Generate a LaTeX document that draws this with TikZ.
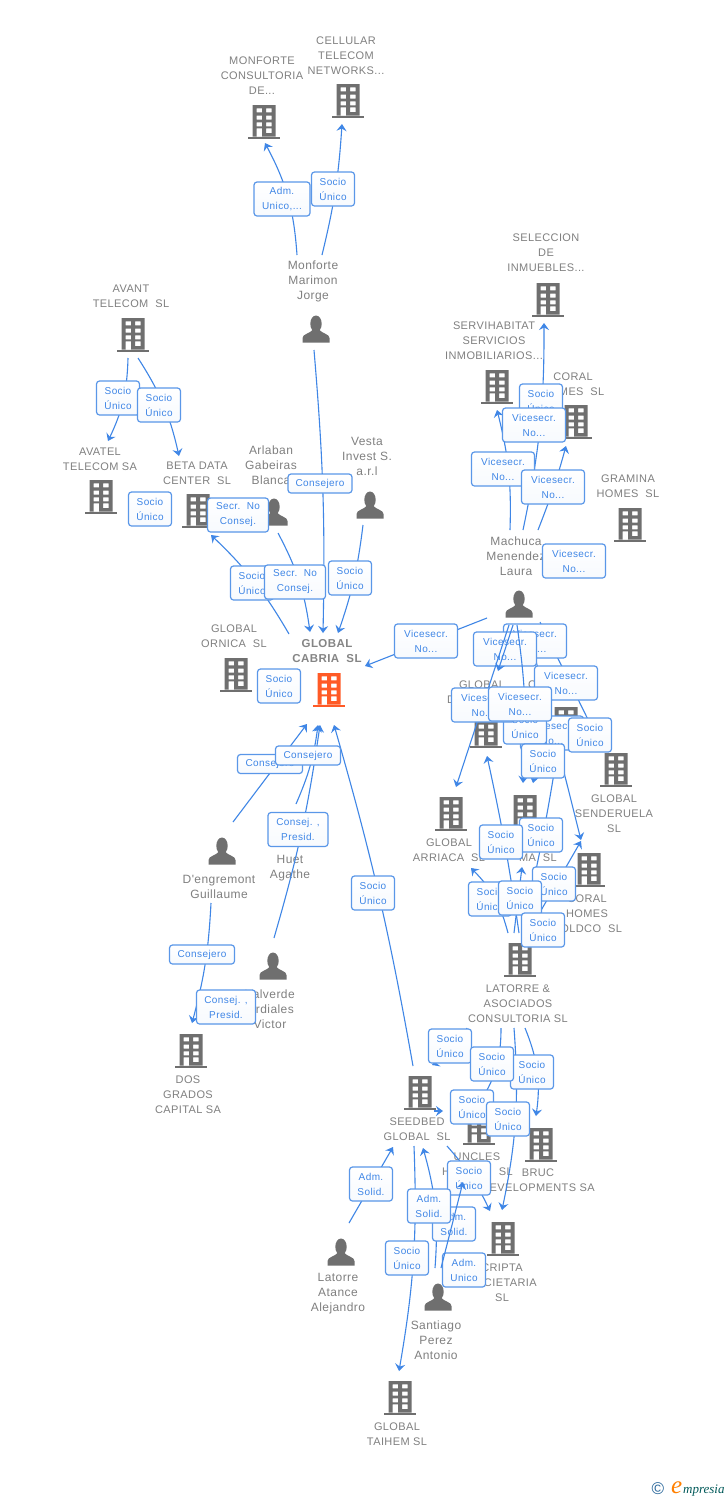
\documentclass[tikz,border=0pt]{standalone}
\usepackage{fontspec}
\setmainfont{Liberation Sans}
\newfontfamily\namefont[LetterSpace=3.6]{Liberation Sans}
\newfontfamily\boxfont[LetterSpace=4]{Liberation Sans}
\newfontfamily\logofont{Liberation Serif}
\usetikzlibrary{arrows.meta}
\definecolor{gtext}{HTML}{808080}
\definecolor{gicon}{HTML}{6F6F6F}
\definecolor{orng}{HTML}{FF5A26}
\definecolor{lblue}{HTML}{3F86E6}
\definecolor{bblue}{HTML}{5A97E8}
\tikzset{
  conn/.style={draw=lblue,line width=1.1pt,-{Stealth[length=7pt,width=10pt,inset=2.5pt]}},
  labelbox/.style={draw=bblue,line width=1.2pt,rounded corners=3pt,top color=white,bottom color=white!93!lblue!60,
    text=lblue,align=center,inner sep=0pt,minimum height=34pt,font=\boxfont\fontsize{10}{15}\selectfont},
  lowbox/.style={labelbox,minimum height=19pt},
  ent/.style={text=gtext,align=center,inner sep=0pt,font=\namefont\fontsize{11}{15}\selectfont},
  per/.style={text=gtext,align=center,inner sep=0pt,font=\namefont\fontsize{12}{15}\selectfont},
  iconbox/.style={inner sep=0pt,minimum width=32pt,minimum height=34pt},
}
\newcommand{\bld}[4][gicon]{%
  \node[iconbox] (#2) at (#3,#4) {};
  \begin{scope}[shift={(#3,#4)}]
    \fill[#1,even odd rule] (-11.5,-17) rectangle (11.5,14.7)
      (-7.5,-13.7) rectangle (-2,-9.7) (2,-13.7) rectangle (7.5,-9.7)
      (-7.5,-6.3) rectangle (-2,-2.3) (2,-6.3) rectangle (7.5,-2.3)
      (-7.5,0.3) rectangle (-2,4.3) (2,0.3) rectangle (7.5,4.3)
      (-7.5,6.3) rectangle (-2,14.7) (2,6.3) rectangle (7.5,11);
    \fill[#1] (-16,14.7) rectangle (16,17);
  \end{scope}}
\newcommand{\pers}[3]{%
  \node[iconbox,minimum width=27pt,minimum height=27pt] (#1) at (#2,#3) {};
  \begin{scope}[shift={(#2,#3)}]
    \fill[gicon] (0,-5.2) ellipse (5.7 and 8.3);
    \fill[gicon] (-13.5,13.5) -- (-13.5,9) .. controls (-13.5,5) and (-6,4.5) .. (-3.5,1)
      -- (3.5,1) .. controls (6,4.5) and (13.5,5) .. (13.5,9) -- (13.5,13.5) -- cycle;
  \end{scope}}
\newcommand{\link}[4]{%
  \coordinate (#1s) at (#2); \coordinate (#1e) at (#3);
  \draw[conn] (#1s) to[#4] (#1e);}
\newcommand{\lab}[5]{\node[labelbox,minimum width=#4pt] (#1) at (#2,#3) {#5};}
\newcommand{\cons}[3]{\node[lowbox,minimum width=65pt] (#1) at (#2,#3) {Consejero};}
\newcommand{\su}[3]{\lab{#1}{#2}{#3}{43}{Socio\\Único}}
\newcommand{\vs}[3]{\lab{#1}{#2}{#3}{63}{Vicesecr.\\No...}}
\newcommand{\as}[3]{\lab{#1}{#2}{#3}{43}{Adm.\\Solid.}}
\begin{document}
\begin{tikzpicture}[x=1pt,y=-1pt]
\useasboundingbox (0,0) rectangle (728,1500);
\fill[white] (0,0) rectangle (728,1500);
% --- company icons
\bld{monf}{264}{122}\bld{cell}{348}{101}\bld{selec}{548}{300}\bld{servi}{497}{387}
\bld{coralh}{576}{422}\bld{gram}{630}{525}\bld{avant}{133}{335}\bld{avatel}{101}{497}
\bld{beta}{198}{511}\bld{ornica}{236}{675}\bld[orng]{cabria}{329}{690}\bld{gdon}{486}{731}
\bld{ghid}{566}{724}\bld{sender}{616}{770}\bld{arriaca}{451}{814}\bld{gma}{525}{812}
\bld{holdco}{589}{870}\bld{latorre}{520}{960}\bld{seedbed}{420}{1093}\bld{uncles}{479}{1128}
\bld{bruc}{541}{1145}\bld{cripta}{503}{1239}\bld{dos}{191}{1051}\bld{taihem}{400}{1398}
% --- person icons
\pers{jorge}{316}{329}\pers{blanca}{274}{512}\pers{vesta}{370}{505}\pers{laura}{519}{604}
\pers{guill}{222}{851}\pers{agathe}{291}{832}\pers{victor}{273}{966}\pers{alej}{341}{1252}\pers{anton}{438}{1297}
% --- names
\node[ent] (t1) at (262,76) {MONFORTE\\CONSULTORIA\\DE...};
\node[ent] (t2) at (346,56) {CELLULAR\\TELECOM\\NETWORKS...};
\node[ent] (t3) at (546,253) {SELECCION\\DE\\INMUEBLES...};
\node[ent] (t4) at (494,341) {SERVIHABITAT\\SERVICIOS\\INMOBILIARIOS...};
\node[ent] (t5) at (573,384.5) {CORAL\\HOMES~~SL};
\node[ent] (t6) at (628,486.5) {GRAMINA\\HOMES~~SL};
\node[ent] (t7) at (131,296.5) {AVANT\\TELECOM~~SL};
\node[ent] (t8) at (100,459.5) {AVATEL\\TELECOM SA};
\node[ent] (t9) at (197,473.5) {BETA DATA\\CENTER~~SL};
\node[ent] (t10) at (234,636.5) {GLOBAL\\ORNICA~~SL};
\node[ent,font=\namefont\bfseries\fontsize{11.5}{15}\selectfont,text=gicon!85!white] (t11) at (327,651.5) {GLOBAL\\CABRIA~~SL};
\node[ent] (t12) at (482,685) {GLOBAL};
\node[ent,anchor=west] (t13) at (447,700) {D};
\node[ent,anchor=west] (t14) at (528,685) {C};
\node[ent] (t15) at (614,814) {GLOBAL\\SENDERUELA\\SL};
\node[ent] (t16) at (449,850.5) {GLOBAL\\ARRIACA~~SL};
\node[ent,anchor=east] (t17) at (557,858) {MA~~SL};
\node[ent] (t18) at (587,914) {CORAL\\HOMES\\HOLDCO~~SL};
\node[ent] (t19) at (518,1004) {LATORRE \&\\ASOCIADOS\\CONSULTORIA SL};
\node[ent] (t20) at (417,1129.5) {SEEDBED\\GLOBAL~~SL};
\node[ent] (t21) at (477,1157) {UNCLES};
\node[ent,anchor=west] (t22) at (442,1172) {H};
\node[ent,anchor=east] (t23) at (513,1172) {SL};
\node[ent] (t24) at (538,1180.5) {BRUC\\DEVELOPMENTS SA};
\node[ent] (t25) at (502,1283) {CRIPTA\\SOCIETARIA\\SL};
\node[ent] (t26) at (188,1095) {DOS\\GRADOS\\CAPITAL SA};
\node[ent] (t27) at (397,1434.5) {GLOBAL\\TAIHEM SL};
\node[per] (p1) at (313,281) {Monforte\\Marimon\\Jorge};
\node[per] (p2) at (271,465) {Arlaban\\Gabeiras\\Blanca};
\node[per] (p3) at (367,456) {Vesta\\Invest S.\\a.r.l};
\node[per] (p4) at (516,556) {Machuca\\Menendez\\Laura};
\node[per] (p5) at (219,886.5) {D'engremont\\Guillaume};
\node[per] (p6) at (290,868.5) {Huet\\Agathe};
\node[per] (p7) at (270,1009) {Valverde\\Ordiales\\Victor};
\node[per] (p8) at (338,1294) {Latorre\\Atance\\Alejandro};
\node[per] (p9) at (436,1340) {Santiago\\Perez\\Antonio};
% --- connectors under the labels
\link{a}{297,255}{265,143}{bend right=12}
\link{b}{322,255}{342,124}{bend right=5}
\link{c}{314,350}{323,633}{bend left=3}
\link{d}{128,358}{108,441}{bend left=12}
\link{e}{138,358}{179,456}{bend left=10}
\link{f}{289,634}{211,535}{bend right=8}
\link{g}{278,533}{310,632}{bend left=10}
\link{h}{363,525}{338,633}{bend left=6}
\link{i}{487,618}{365,666}{bend left=0}
\link{j}{233,822}{307,724}{bend left=0}
\link{k}{296,804}{318,725}{bend right=8}
\link{l}{274,938}{320,725}{bend right=4}
\link{m}{413,1066}{334,725}{bend right=3}
\link{n}{211,903}{192,1023}{bend left=6}
\link{o}{523,530}{544,323}{bend right=6}
\link{q}{510,530}{497,410}{bend right=8}
\link{r}{538,530}{566,446}{bend right=3}
\link{s}{540,622}{602,748}{bend left=0}
\link{t}{527,625}{581,840}{bend left=0}
\link{u}{540,750}{533,783}{bend left=0}
\link{v}{508,933}{471,868}{bend right=15}
\link{w}{514,933}{522,867}{bend left=0}
\link{x}{519,933}{487,756}{bend right=2}
\link{y}{522,933}{559,742}{bend right=2}
\link{z}{528,933}{581,841}{bend left=0}
\link{aa}{467,1028}{432,1065}{bend left=20}
\link{ab}{501,1028}{482,1099}{bend left=15}
\link{ac}{525,1028}{536,1116}{bend left=15}
\link{ad}{514,1028}{502,1210}{bend left=8}
\link{ae}{434,1111}{443,1111}{bend left=0}
\link{af}{447,1146}{490,1211}{bend left=8}
\link{ag}{414,1146}{399,1371}{bend left=6}
\link{ah}{435,1268}{423,1148}{bend right=10}
\link{ak}{349,1223}{393,1147}{bend left=0}
% --- labels
\lab{l1}{282}{199}{56}{Adm.\\Unico,...}
\su{l2}{333}{189}
\su{l3}{118}{398}\su{l4}{159}{405}\su{l5}{150}{509}
\lab{l6}{238}{515}{61}{Secr.~~No\\Consej.}
\node[lowbox,minimum width=64pt] (l7) at (320,483.5) {Consejero};
\su{l8}{252}{583}
\lab{l9}{295}{582}{61}{Secr.~~No\\Consej.}
\su{l10}{350}{578}\su{l11}{279}{686}
\vs{l12}{426}{641}
\cons{l13}{270}{764}
\cons{l14}{308}{755.5}
\lab{l15}{298}{829.5}{60}{Consej. ,\\Presid.}
\cons{l16}{202}{954.5}
\lab{l17}{226}{1007}{59}{Consej. ,\\Presid.}
\su{l18}{373}{893}
\su{l19}{541}{401}\vs{l20}{534}{425}\vs{l21}{503}{469}\vs{l22}{553}{487}\vs{l23}{574}{561}
\vs{l24}{535}{641}\vs{l25}{505}{649}
% connectors lying over the two labels just drawn
\link{ba}{513,625}{498,671}{bend left=0}
\link{bb}{509,625}{456,787}{bend left=0}
\link{bc}{517,625}{523,783}{bend left=6}
\vs{l26}{566}{683}\vs{l27}{552}{733}\su{l28}{525}{727}
\vs{l29}{483}{705}\vs{l30}{520}{704}
\su{l31}{590}{735}\su{l32}{543}{761}
\su{l33}{541}{835}\su{l34}{501}{842}
\su{l35}{554}{884}\su{l36}{490}{899}\su{l37}{520}{898}\su{l38}{543}{930}
\su{l39}{450}{1046}\su{l40}{532}{1072}\su{l41}{492}{1064}
\su{l42}{472}{1107}\su{l43}{508}{1119}\su{l44}{469}{1178}
\as{l45}{371}{1184}\as{l46}{454}{1224}\as{l47}{429}{1206}
\su{l48}{407}{1258}
\lab{l49}{464}{1270}{43}{Adm.\\Unico}
\link{bd}{441,1268}{463,1182}{bend left=0}
% --- logo
\node[inner sep=0pt,text=teal!70!blue!70!gray] (copy) at (658,1489) {\fontsize{17}{17}\selectfont ©};
\node[inner sep=0pt,anchor=base west,text=orange] (logoe) at (671,1493) {\logofont\itshape\fontsize{25}{25}\selectfont e};
\node[inner sep=0pt,anchor=base west,text=teal!70!black] (logot) at (683,1493) {\logofont\itshape\fontsize{13}{13}\selectfont mpresia};
\end{tikzpicture}
\end{document}
